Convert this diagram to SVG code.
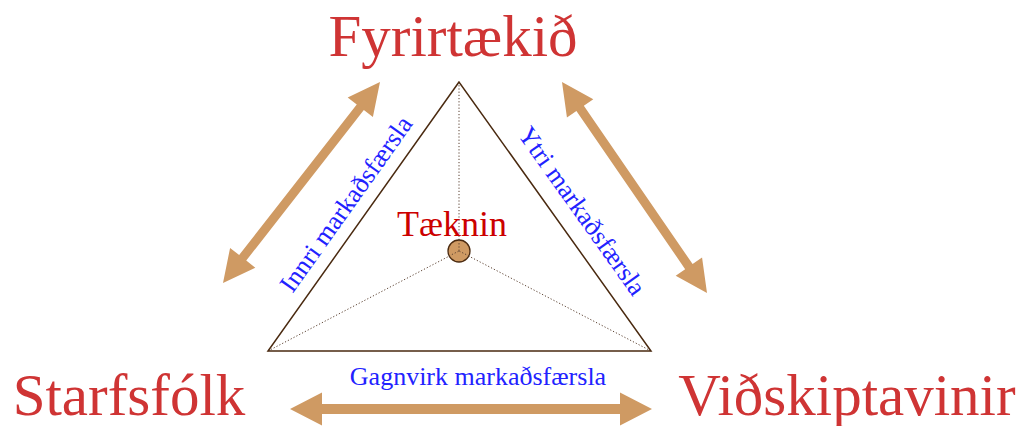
<svg xmlns="http://www.w3.org/2000/svg" width="1028" height="426" viewBox="0 0 1028 426">
<style>
.big{font-family:"Liberation Serif","Times New Roman",serif;font-size:59px;fill:#cf3434;text-anchor:middle}
.lbl{font-family:"Liberation Serif","Times New Roman",serif;font-size:26px;fill:#2222ff;text-anchor:middle}
.arrow{fill:#cf9a63}
.dot{stroke:#5a4030;stroke-width:1;stroke-dasharray:1.2,2;fill:none}
</style>
<rect width="1028" height="426" fill="#ffffff"/>
<g id="connectors">
<path class="arrow" transform="translate(223,283) rotate(-52)" d="M0,0 L32,-16 L32,-4.5 L223,-4.5 L223,-16 L255,0 L223,16 L223,4.5 L32,4.5 L32,16 Z"/>
<path class="arrow" transform="translate(562,82) rotate(55.5)" d="M0,0 L32,-16 L32,-4.5 L224,-4.5 L224,-16 L256,0 L224,16 L224,4.5 L32,4.5 L32,16 Z"/>
<path class="arrow" transform="translate(290,409)" d="M0,0 L32,-16.5 L32,-5 L330,-5 L330,-16.5 L362,0 L330,16.5 L330,5 L32,5 L32,16.5 Z"/>
<line class="dot" x1="459" y1="82" x2="459" y2="251"/>
<line class="dot" x1="268" y1="351" x2="459" y2="251"/>
<line class="dot" x1="651" y1="351" x2="459" y2="251"/>
</g>
<g id="triangle">
<polygon points="459,82 268,351 651,351" fill="none" stroke="#4a2a10" stroke-width="1.5" stroke-linejoin="miter"/>
</g>
<g id="center">
<circle cx="459" cy="251" r="11" fill="#cf9a63" stroke="#4a2a10" stroke-width="1.3"/>
<line class="dot" x1="459" y1="240" x2="459" y2="251"/>
<line class="dot" x1="449" y1="256" x2="459" y2="251"/>
<line class="dot" x1="469" y1="256" x2="459" y2="251"/>
<text x="452" y="236" font-family="Liberation Serif, Times New Roman, serif" font-size="36" fill="#cc0000" text-anchor="middle">Tæknin</text>
</g>
<g id="fyrirtaekid"><text class="big" x="453" y="56">Fyrirtækið</text></g>
<g id="starfsfolk"><text class="big" x="129" y="415">Starfsfólk</text></g>
<g id="vidskiptavinir"><text class="big" x="847" y="415">Viðskiptavinir</text></g>
<g id="innri"><text class="lbl" transform="translate(353,209) rotate(-54.6)">Innri markaðsfærsla</text></g>
<g id="ytri"><text class="lbl" transform="translate(575,216) rotate(54.5)">Ytri markaðsfærsla</text></g>
<g id="gagnvirk"><text class="lbl" x="478" y="385">Gagnvirk markaðsfærsla</text></g>
</svg>
